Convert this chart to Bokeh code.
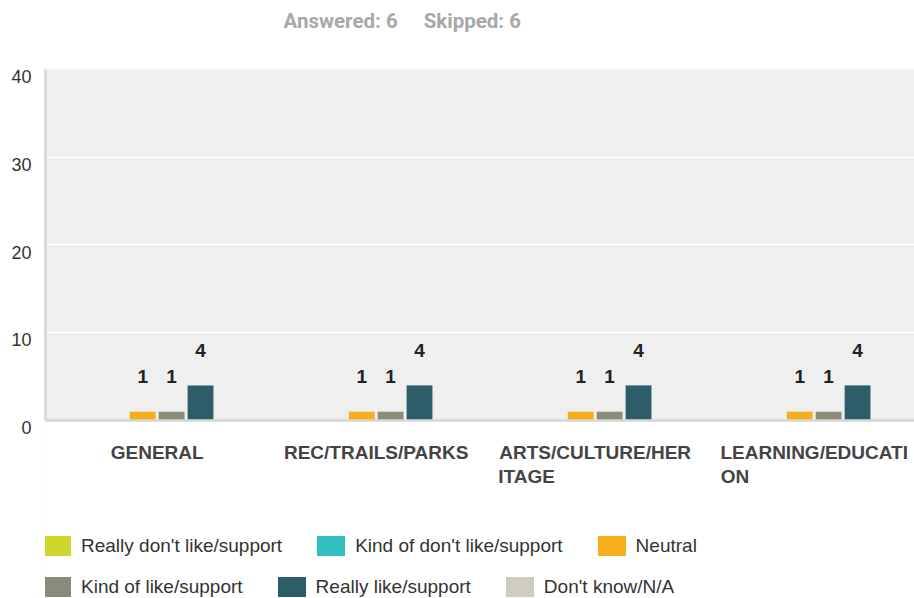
from bokeh.plotting import figure
from bokeh.models import (ColumnDataSource, Range1d, FixedTicker, Legend, LegendItem, Title,
                          BoxAnnotation)
from bokeh.embed import file_html
from bokeh.resources import INLINE
from bokeh.core.properties import value

# ---- data ----
categories = ["GENERAL", "REC/TRAILS/PARKS", "ARTS/CULTURE/HERITAGE", "LEARNING/EDUCATION"]
NB = "\u00a0"
category_labels = ["GENERAL", "REC/TRAILS/PARKS",
                   "ARTS/CULTURE/HER\nITAGE" + NB * 26,
                   "LEARNING/EDUCATI\nON" + NB * 30]
series_names = ["Really don't like/support", "Kind of don't like/support", "Neutral",
                "Kind of like/support", "Really like/support", "Don't know/N/A"]
series_colors = ["#d0d62c", "#33bec0", "#f7ae1c", "#8a8b78", "#2e5d6a", "#cfcdbe"]
really_dont = [0, 0, 0, 0]
kind_of_dont = [0, 0, 0, 0]
neutral = [1, 1, 1, 1]
kind_of_like = [1, 1, 1, 1]
really_like = [4, 4, 4, 4]
dont_know = [0, 0, 0, 0]
series_values = [really_dont, kind_of_dont, neutral, kind_of_like, really_like, dont_know]
y_ticks = [0, 10, 20, 30, 40]
y_tick_labels = ["0", "10", "20", "30", "40"]
answered = 6
skipped = 6

# ---- layout constants ----
SLOT = 0.132
BAR_W = 0.118
FONT = "Liberation Sans"
Y_MAX = 40
Y_BELOW = -20.285   # empty space under the value axis (legend area)

p = figure(width=914, height=598, x_range=Range1d(-0.5098, 3.458),
           y_range=Range1d(Y_BELOW, Y_MAX),
           output_backend="svg", toolbar_location=None, title=None,
           min_border_left=45, min_border_right=0, min_border_top=69, min_border_bottom=0)
p.background_fill_color = "#efefef"
p.border_fill_color = "white"
p.outline_line_color = None

# white area below zero
p.add_layout(BoxAnnotation(top=0, fill_color="white", fill_alpha=1, line_alpha=0,
                           level="underlay"))

# bars
renderers = []
lab_x, lab_y, lab_t = [], [], []
n = len(series_names)
for j, (name, color, vals) in enumerate(zip(series_names, series_colors, series_values)):
    xs = [i + (j - (n - 1) / 2) * SLOT for i in range(len(categories))]
    src = ColumnDataSource(dict(x=xs, top=vals))
    r = p.vbar(x="x", top="top", width=BAR_W, bottom=0, source=src,
               fill_color=color, line_color=None)
    renderers.append(r)
    for x, v in zip(xs, vals):
        if v:
            lab_x.append(x); lab_y.append(v); lab_t.append(str(v))

p.text(x=lab_x, y=lab_y, text=lab_t, text_font=value(FONT), text_font_style="bold",
       text_font_size="19px", text_color="#222222", text_align="center",
       text_baseline="middle", y_offset=-35)

# grid
p.xgrid.visible = False
p.ygrid.ticker = FixedTicker(ticks=y_ticks)
p.ygrid.bounds = (0, Y_MAX)
p.ygrid.grid_line_color = "white"
p.ygrid.grid_line_width = 1.5

# y axis
ya = p.yaxis[0]
ya.ticker = FixedTicker(ticks=y_ticks)
ya.bounds = (0, Y_MAX)
ya.major_label_overrides = {t: "\n" + lab for t, lab in zip(y_ticks, y_tick_labels)}
ya.major_label_text_line_height = 0.76
ya.axis_line_color = "#d9d9d9"
ya.axis_line_width = 3
ya.major_tick_line_color = None
ya.minor_tick_line_color = None
ya.major_tick_out = 0
ya.major_tick_in = 0
ya.major_label_text_font = FONT
ya.major_label_text_font_size = "18px"
ya.major_label_text_color = "#333333"
ya.major_label_standoff = 14

# x axis drawn at value 0
xa = p.xaxis[0]
xa.fixed_location = 0
xa.ticker = FixedTicker(ticks=list(range(len(categories))))
xa.major_label_overrides = {i: lab for i, lab in enumerate(category_labels)}
xa.axis_line_color = "#d6d6d6"
xa.axis_line_width = 2.5
xa.major_tick_line_color = None
xa.minor_tick_line_color = None
xa.major_tick_out = 0
xa.major_tick_in = 0
xa.major_label_text_font = FONT
xa.major_label_text_font_style = "bold"
xa.major_label_text_font_size = "19px"
xa.major_label_text_color = "#444444"
xa.major_label_text_line_height = 1.12
xa.major_label_standoff = 22

# title above a spacer (spacer nearest the frame)
p.add_layout(Title(text=" ", text_font_size="10px", standoff=22), "above")
title = Title(text=f"Answered: {answered} \u2003Skipped: {skipped}", align="left", offset=238,
              text_font="Roboto", text_font_style="bold", text_font_size="20.5px",
              text_color="#a8a8a8", vertical_align="middle", standoff=2)
p.add_layout(title, "above")

# legends in the empty area below the axis
def make_legend(idx, loc):
    return Legend(items=[LegendItem(label=series_names[k], renderers=[renderers[k]]) for k in idx],
                  orientation="horizontal", location=loc, margin=0, padding=0,
                  spacing=31, glyph_width=35, glyph_height=25, label_height=25,
                  label_standoff=7, label_text_font=FONT, label_text_font_size="19px",
                  label_text_color="#333333", border_line_color=None,
                  background_fill_alpha=0)

p.add_layout(make_legend([0, 1, 2], (-6, 40)))
p.add_layout(make_legend([3, 4, 5], (-6, -1)))

open("out.html", "w").write(file_html(p, INLINE))
